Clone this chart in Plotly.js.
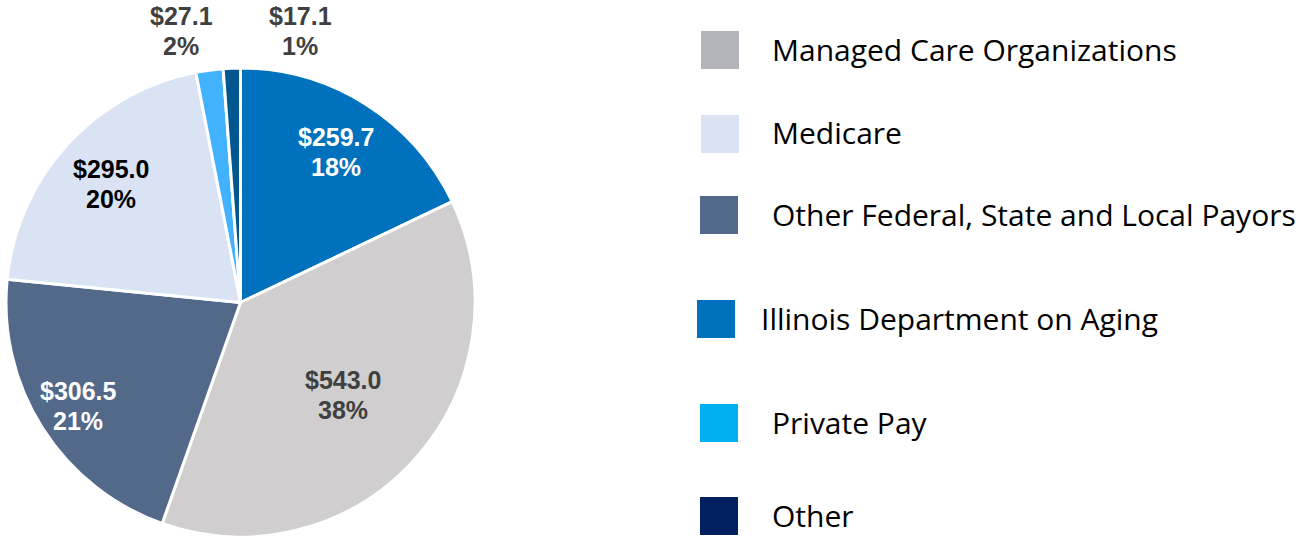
<!DOCTYPE html>
<html>
<head>
<meta charset="utf-8">
<script src="https://cdn.plot.ly/plotly-3.0.1.min.js"></script>
<style>html,body{margin:0;padding:0;background:#fff;}#chart{width:1303px;height:539px;}</style>
</head>
<body>
<div id="chart"></div>
<script>
// ---- data ----
const sliceLabels = ["Illinois Department on Aging", "Managed Care Organizations", "Other Federal, State and Local Payors", "Medicare", "Private Pay", "Other"];
const sliceValues = [259.7, 543.0, 306.5, 295.0, 27.1, 17.1];
const slicePercents = ["18%", "38%", "21%", "20%", "2%", "1%"];
const sliceColors = ["#0071BC", "#D0CECE", "#52698A", "#DAE3F3", "#42B2FF", "#00568E"];
const legendLabels = ["Managed Care Organizations", "Medicare", "Other Federal, State and Local Payors", "Illinois Department on Aging", "Private Pay", "Other"];
const legendColors = ["#B3B4B9", "#DAE3F3", "#52698A", "#0071BC", "#00B0F0", "#002060"];

// ---- layout config (positions / styles) ----
const W = 1303, H = 539;
const cx = 240.5, cy = 302.5, R = 234.5;
const LINE = 30; // label line pitch in px
const labelPlace = [
  {f: 0.76, color: "#FFFFFF"},
  {f: 0.59, color: "#404040"},
  {f: 0.82, color: "#FFFFFF"},
  {f: 0.75, color: "#000000"},
  {px: 181, py: 31, color: "#404040"},
  {px: 300, py: 31, color: "#404040"}
];
const legendRows = [
  {y: 49, sx: 701, tx: 770},
  {y: 133, sx: 701, tx: 770},
  {y: 214, sx: 700, tx: 770},
  {y: 318, sx: 697, tx: 759},
  {y: 422, sx: 700, tx: 770},
  {y: 515, sx: 700, tx: 770}
];
const SQ = 38;

const total = sliceValues.reduce((a, b) => a + b, 0);
const annotations = [];
const labelFont = (c) => ({family: "Liberation Sans, Arial, sans-serif", size: 25, color: c});
let cum = 0;
sliceValues.forEach((v, i) => {
  const mid = (cum + v / 2) / total * 2 * Math.PI;
  cum += v;
  const p = labelPlace[i];
  let px, py;
  if (p.f !== undefined) {
    px = cx + R * p.f * Math.sin(mid);
    py = cy - R * p.f * Math.cos(mid);
  } else { px = p.px; py = p.py; }
  const lines = ["$" + v.toFixed(1), slicePercents[i]];
  lines.forEach((t, k) => {
    annotations.push({
      xref: "paper", yref: "paper", x: px / W, y: 1 - (py + (k - 0.5) * LINE) / H,
      xanchor: "center", yanchor: "middle", showarrow: false,
      text: "<b>" + t + "</b>", font: labelFont(p.color)
    });
  });
});

const shapes = [];
legendLabels.forEach((lab, i) => {
  const r = legendRows[i];
  shapes.push({
    type: "rect", xref: "paper", yref: "paper",
    x0: r.sx / W, x1: (r.sx + SQ) / W,
    y0: 1 - (r.y + 1 + SQ / 2) / H, y1: 1 - (r.y + 1 - SQ / 2) / H,
    fillcolor: legendColors[i], line: {width: 0}
  });
  annotations.push({
    xref: "paper", yref: "paper", x: r.tx / W, y: 1 - r.y / H,
    xanchor: "left", yanchor: "middle", showarrow: false,
    text: lab,
    font: {family: "Open Sans, sans-serif", size: 30, color: "#000000"}
  });
});

const trace = {
  type: "pie",
  labels: sliceLabels,
  values: sliceValues,
  sort: false,
  direction: "clockwise",
  rotation: 0,
  textinfo: "none",
  hoverinfo: "label+value+percent",
  showlegend: false,
  marker: {colors: sliceColors, line: {color: "#FFFFFF", width: 3}},
  domain: {x: [(cx - R) / W, (cx + R) / W], y: [1 - (cy + R) / H, 1 - (cy - R) / H]}
};

Plotly.newPlot("chart", [trace], {
  width: W, height: H,
  margin: {l: 0, r: 0, t: 0, b: 0},
  paper_bgcolor: "#FFFFFF",
  showlegend: false,
  annotations: annotations,
  shapes: shapes
}, {displayModeBar: false, staticPlot: true});
</script>
</body>
</html>
